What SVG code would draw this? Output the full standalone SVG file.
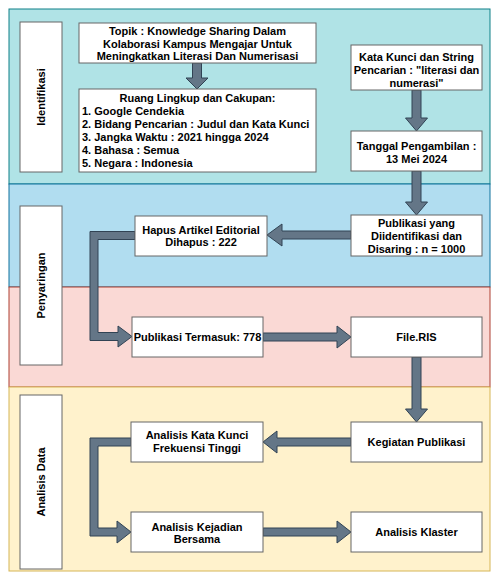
<svg xmlns="http://www.w3.org/2000/svg" width="492" height="574" viewBox="0 0 492 574">
<style>
.t{font-family:"Liberation Sans",Arial,sans-serif;font-weight:bold;font-size:11px;fill:#000}
.c{text-anchor:middle}
.box{fill:#fff;stroke:#666;stroke-width:1}
.arr{fill:#647687;stroke:#314354;stroke-width:1;stroke-linejoin:miter}
</style>
<rect width="492" height="574" fill="#fff"/>
<g id="bands">
<rect x="9" y="9" width="481" height="175" fill="#b0e3e6" stroke="#0e8088"/>
<rect x="9" y="184" width="481" height="103" fill="#b1ddf0" stroke="#10739e"/>
<rect x="9" y="287" width="481" height="100" fill="#fad9d5" stroke="#ae4132"/>
<rect x="9" y="387" width="481" height="184" fill="#fff2cc" stroke="#d6b656"/>
</g>
<g id="lbl-identifikasi">
<rect class="box" x="20" y="22" width="42" height="150"/>
<text class="t c" transform="translate(45,97) rotate(-90)">Identifikasi</text>
</g>
<g id="lbl-penyaringan">
<rect class="box" x="20" y="206" width="42" height="159"/>
<text class="t c" transform="translate(45,285.5) rotate(-90)">Penyaringan</text>
</g>
<g id="lbl-analisis">
<rect class="box" x="20" y="395" width="42" height="174"/>
<text class="t c" transform="translate(45,482) rotate(-90)">Analisis Data</text>
</g>
<g id="connectors">
<polygon class="arr" points="192.5,63 201.5,63 201.5,78 208,78 197,89 186,78 192.5,78"/>
<polygon class="arr" points="412,90 421,90 421,118 427.5,118 416.5,131 405.5,118 412,118"/>
<polygon class="arr" points="412,171 421,171 421,202 427.5,202 416.5,215 405.5,202 412,202"/>
<polygon class="arr" points="412,357 421,357 421,409 427.5,409 416.5,422 405.5,409 412,409"/>
<polygon class="arr" points="351,231 282,231 282,224 267,235 282,246 282,239 351,239"/>
<polygon class="arr" points="263,333 337,333 337,326 351,337 337,348 337,341 263,341"/>
<polygon class="arr" points="351,438 277,438 277,431 263,442 277,453 277,446 351,446"/>
<polygon class="arr" points="263,528 337,528 337,521 351,532 337,543 337,536 263,536"/>
<polygon class="arr" points="135,231.5 90,231.5 90,340.5 118,340.5 118,347 132,336.5 118,326 118,332.5 98,332.5 98,239.5 135,239.5"/>
<polygon class="arr" points="131,438 90,438 90,536 117,536 117,543 131,532 117,521 117,528 98,528 98,446 131,446"/>
</g>
<g id="n-topik">
<rect class="box" x="79" y="23" width="237" height="40"/>
<text class="t c" x="197.5" y="34.5">Topik : Knowledge Sharing Dalam</text>
<text class="t c" x="197.5" y="47.5">Kolaborasi Kampus Mengajar Untuk</text>
<text class="t c" x="197.5" y="60">Meningkatkan Literasi Dan Numerisasi</text>
</g>
<g id="n-ruang">
<rect class="box" x="79" y="89" width="237" height="83"/>
<text class="t c" x="197.5" y="102">Ruang Lingkup dan Cakupan:</text>
<text class="t" x="82" y="114.5">1. Google Cendekia</text>
<text class="t" x="82" y="127.5">2. Bidang Pencarian : Judul dan Kata Kunci</text>
<text class="t" x="82" y="140.5">3. Jangka Waktu : 2021 hingga 2024</text>
<text class="t" x="82" y="153.5">4. Bahasa : Semua</text>
<text class="t" x="82" y="166.5">5. Negara : Indonesia</text>
</g>
<g id="n-katakunci">
<rect class="box" x="351" y="45" width="131" height="45"/>
<text class="t c" x="416.5" y="60.5">Kata Kunci dan String</text>
<text class="t c" x="416.5" y="73.5">Pencarian : "literasi dan</text>
<text class="t c" x="416.5" y="86.5">numerasi"</text>
</g>
<g id="n-tanggal">
<rect class="box" x="351" y="131" width="131" height="40"/>
<text class="t c" x="416.5" y="149.5">Tanggal Pengambilan :</text>
<text class="t c" x="416.5" y="163">13 Mei 2024</text>
</g>
<g id="n-publikasi">
<rect class="box" x="351" y="215" width="131" height="41"/>
<text class="t c" x="416.5" y="227">Publikasi yang</text>
<text class="t c" x="416.5" y="240">Diidentifikasi dan</text>
<text class="t c" x="416.5" y="253">Disaring : n = 1000</text>
</g>
<g id="n-hapus">
<rect class="box" x="135" y="216" width="132" height="40"/>
<text class="t c" x="201" y="234">Hapus Artikel Editorial</text>
<text class="t c" x="201" y="246">Dihapus : 222</text>
</g>
<g id="n-termasuk">
<rect class="box" x="132" y="317" width="131" height="40"/>
<text class="t c" x="197.5" y="340.5">Publikasi Termasuk: 778</text>
</g>
<g id="n-fileris">
<rect class="box" x="351" y="317" width="131" height="40"/>
<text class="t c" x="416.5" y="341">File.RIS</text>
</g>
<g id="n-kegiatan">
<rect class="box" x="351" y="422" width="131" height="40"/>
<text class="t c" x="416.5" y="446">Kegiatan Publikasi</text>
</g>
<g id="n-katakuncifrek">
<rect class="box" x="131" y="422" width="132" height="40"/>
<text class="t c" x="197" y="439">Analisis Kata Kunci</text>
<text class="t c" x="197" y="452">Frekuensi Tinggi</text>
</g>
<g id="n-kejadian">
<rect class="box" x="131" y="512" width="132" height="40"/>
<text class="t c" x="197" y="531">Analisis Kejadian</text>
<text class="t c" x="197" y="543">Bersama</text>
</g>
<g id="n-klaster">
<rect class="box" x="351" y="512" width="131" height="40"/>
<text class="t c" x="416.5" y="536">Analisis Klaster</text>
</g>
</svg>
